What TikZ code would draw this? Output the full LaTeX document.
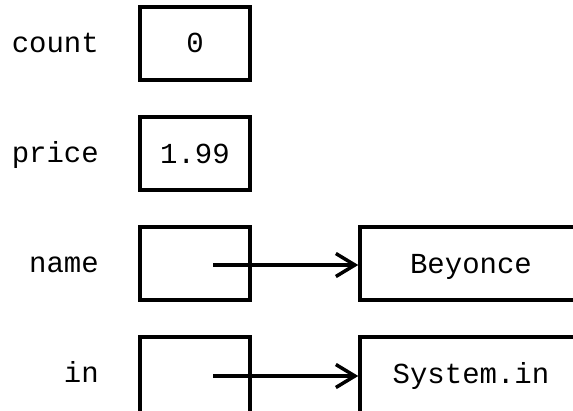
\documentclass[tikz,border=0pt]{standalone}
\usepackage{fontspec}
\setmonofont{Liberation Mono}
\usetikzlibrary{arrows.meta}
\begin{document}
\begin{tikzpicture}[x=1pt,y=-1pt,
  every node/.style={font=\ttfamily\fontsize{29}{31}\selectfont},
  valbox/.style={draw,line width=3.5pt,minimum width=110pt,minimum height=73pt,inner sep=0pt},
  objbox/.style={draw,line width=3.5pt,minimum width=220pt,minimum height=73pt,inner sep=0pt},
  cutbox/.style={minimum height=78pt},
  varlabel/.style={anchor=base east,inner sep=0pt},
  valtext/.style={anchor=base,inner sep=0pt},
  ref/.style={line width=3.5pt,-{Straight Barb[length=19pt,width=23pt,line width=3.5pt]}}]
\useasboundingbox (0,0) rectangle (573,410);
\clip (0,0) rectangle (573,410);
% boxes
\node[valbox] (countbox) at (195,43.5) {};
\node[valbox] (pricebox) at (195,153.5) {};
\node[valbox] (namebox) at (195,263.5) {};
\node[valbox,cutbox] (inbox) at (195,376) {};
\node[objbox] (bey) at (470,263.5) {};
\node[objbox,cutbox] (sys) at (470,376) {};
% labels
\node[varlabel] (lcount) at (99,52) {count};
\node[varlabel] (lprice) at (99,162) {price};
\node[varlabel] (lname) at (99,272) {name};
\node[varlabel] (lin) at (99,382) {in};
% values
\node[valtext] (vcount) at (195,52.5) {0};
\node[valtext] (vprice) at (195,163) {1.99};
\node[valtext] (vbey) at (471,273) {Beyonce};
\node[valtext] (vsys) at (471,383) {System.in};
% arrows
\coordinate (p1) at (213,265);
\coordinate (p2) at (213,376);
\draw[ref] (p1) -- (p1 -| bey.west);
\draw[ref] (p2) -- (p2 -| sys.west);
\end{tikzpicture}
\end{document}
